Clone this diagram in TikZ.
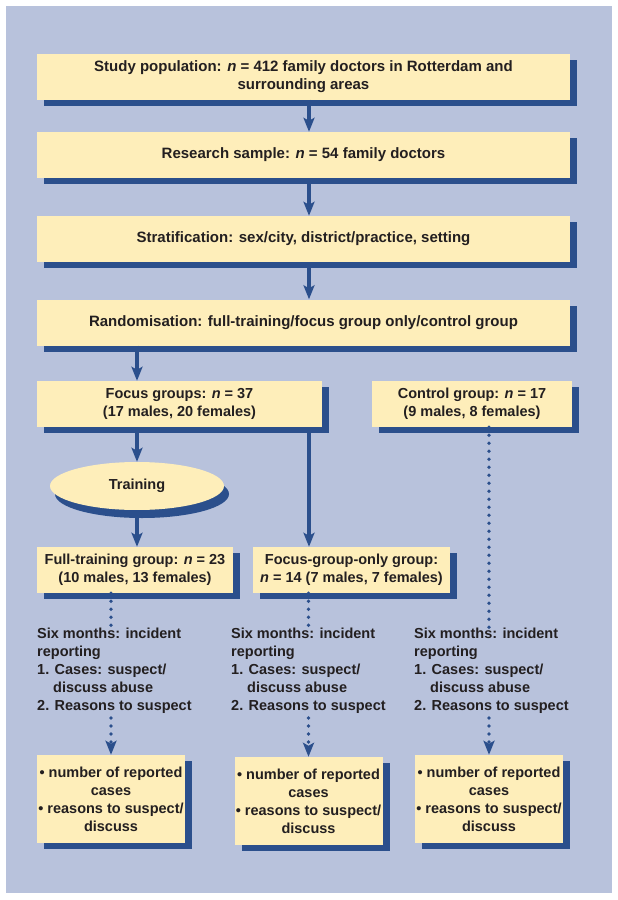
\documentclass[tikz,border=0pt]{standalone}
\usepackage{fontspec}
\setmainfont{Liberation Sans}
\usetikzlibrary{arrows.meta, shapes.geometric, shadows, positioning}
\definecolor{bgblue}{HTML}{B8C2DC}
\definecolor{boxyellow}{HTML}{FEEEBA}
\definecolor{dkblue}{HTML}{2B4F8C}
\definecolor{txtdark}{HTML}{231F20}
\tikzset{
	font = {\fontsize{14.5pt}{18pt}\selectfont\bfseries},
	shad/.style = {drop shadow = {shadow xshift = 7pt, shadow yshift = -6pt, fill = dkblue, opacity = 1}},
	main/.style = {rectangle, minimum width = 533pt, minimum height = 46pt, inner sep = 0pt, align = center, fill = boxyellow, text = txtdark, shad, font = {\fontsize{15pt}{18pt}\selectfont\bfseries}},
	grp/.style = {rectangle, minimum height = 46pt, inner sep = 0pt, align = center, fill = boxyellow, text = txtdark, shad},
	res/.style = {rectangle, minimum width = 148pt, minimum height = 88pt, inner sep = 0pt, align = center, fill = boxyellow, text = txtdark, shad},
	oval/.style = {ellipse, minimum width = 174pt, minimum height = 48pt, inner sep = 0pt, fill = boxyellow, text = txtdark, drop shadow = {shadow xshift = 5pt, shadow yshift = -8pt, fill = dkblue, opacity = 1}},
	txt/.style = {align = left, anchor = north west, inner sep = 0pt, text = txtdark},
	arrow/.style = {-{Stealth[length = 14pt, width = 11pt, inset = 3pt]}, draw = dkblue, line width = 3.5pt},
	dots/.style = {draw = dkblue, line width = 3.8pt, line cap = round, dash pattern = on 0pt off 8pt}
}

\begin{document}
\begin{tikzpicture}[x = 1pt, y = -1pt]
	\useasboundingbox (0,0) rectangle (618,900);
	\fill [bgblue] (5.5,5.5) rectangle (611.5,893);
	\coordinate (mid) at (309,0);
	
	%%%%%%%% main column %%%%%%%%
	\node (study) [main] at (303.5,76.5) {Study population: \textit{n} = 412 family doctors in Rotterdam and\\surrounding areas};
	\node (sample) [main] at (303.5,155) {Research sample: \textit{n} = 54 family doctors};
	\node (strat) [main] at (303.5,239) {Stratification: sex/city, district/practice, setting};
	\node (random) [main] at (303.5,322.5) {Randomisation: full-training/focus group only/control group};
	
	%% groups
	\node (focus) [grp, minimum width = 285pt] at (179.5,404) {Focus groups: \textit{n} = 37\\(17 males, 20 females)};
	\node (control) [grp, minimum width = 200pt] at (472,404) {Control group: \textit{n} = 17\\(9 males, 8 females)};
	\node (train) [oval] at (137,486) {Training};
	\node (fulltrain) [grp, minimum width = 196pt] at (135,570) {Full-training group: \textit{n} = 23\\(10 males, 13 females)};
	\node (focusonly) [grp, minimum width = 197pt] at (351.5,570) {Focus-group-only group:\\\textit{n} = 14 (7 males, 7 females)};
	
	%% six months reporting
	\node (six1) [txt] at (37,628) {Six months: incident\\reporting\\1. Cases: suspect/\\\hspace*{16pt}discuss abuse\\2. Reasons to suspect};
	\node (six2) [txt] at (231,628) {Six months: incident\\reporting\\1. Cases: suspect/\\\hspace*{16pt}discuss abuse\\2. Reasons to suspect};
	\node (six3) [txt] at (414,628) {Six months: incident\\reporting\\1. Cases: suspect/\\\hspace*{16pt}discuss abuse\\2. Reasons to suspect};
	
	%% outcomes
	\node (res1) [res] at (111,799) {\textbullet{} number of reported\\cases\\\textbullet{} reasons to suspect/\\discuss};
	\node (res2) [res] at (308.5,801) {\textbullet{} number of reported\\cases\\\textbullet{} reasons to suspect/\\discuss};
	\node (res3) [res] at (489,799) {\textbullet{} number of reported\\cases\\\textbullet{} reasons to suspect/\\discuss};
	
	%%% arrows %%%
	\draw [arrow] (study.south -| mid) -- (sample.north -| mid);
	\draw [arrow] (sample.south -| mid) -- (strat.north -| mid);
	\draw [arrow] (strat.south -| mid) -- (random.north -| mid);
	\draw [arrow] (random.south -| train) -- (focus.north -| train);
	\draw [arrow] (focus.south -| train) -- (train.north);
	\draw [arrow] (train.south) -- (fulltrain.north -| train);
	\draw [arrow] (focus.south -| mid) -- (focusonly.north -| mid);
	
	% dotted
	\draw [dots] (fulltrain.south -| res1) -- (six1.north -| res1);
	\draw [dots] (focusonly.south -| res2) -- (six2.north -| res2);
	\draw [dots] (control.south -| res3) -- (six3.north -| res3);
	\draw [dots, -{Stealth[length = 14pt, width = 11pt, inset = 3pt]}] ([yshift = -4pt]six1.south -| res1) -- (res1.north);
	\draw [dots, -{Stealth[length = 14pt, width = 11pt, inset = 3pt]}] ([yshift = -4pt]six2.south -| res2) -- (res2.north);
	\draw [dots, -{Stealth[length = 14pt, width = 11pt, inset = 3pt]}] ([yshift = -4pt]six3.south -| res3) -- (res3.north);
\end{tikzpicture}
\end{document}
